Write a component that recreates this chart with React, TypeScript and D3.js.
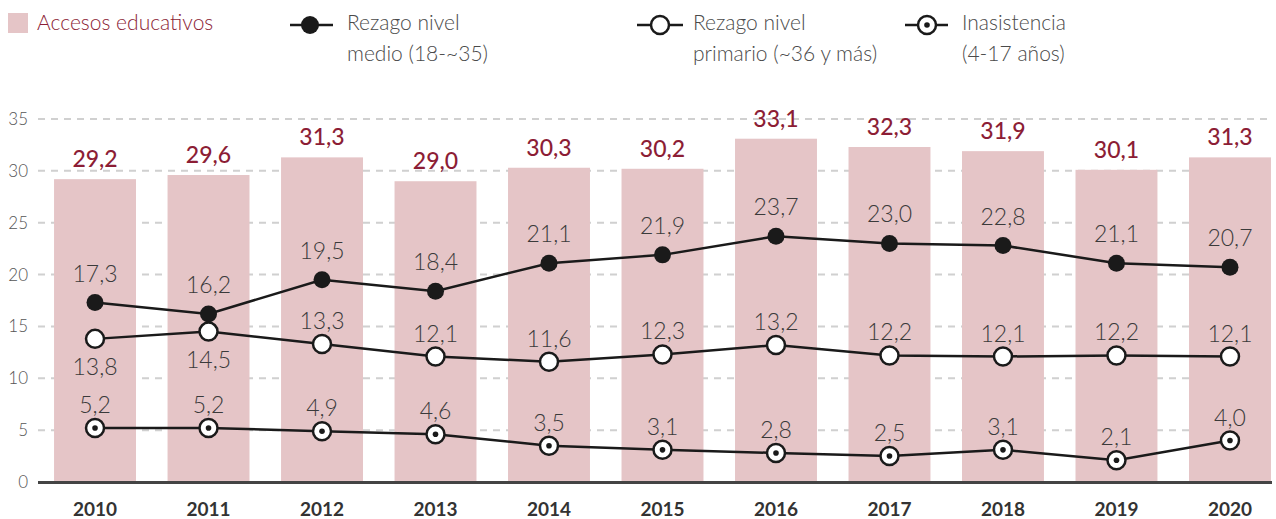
import React from "react";
import * as d3 from "d3";

const years = ["2010", "2011", "2012", "2013", "2014", "2015", "2016", "2017", "2018", "2019", "2020"];
const accesos = [29.2, 29.6, 31.3, 29.0, 30.3, 30.2, 33.1, 32.3, 31.9, 30.1, 31.3];
const rezagoMedio = [17.3, 16.2, 19.5, 18.4, 21.1, 21.9, 23.7, 23.0, 22.8, 21.1, 20.7];
const rezagoPrimario = [13.8, 14.5, 13.3, 12.1, 11.6, 12.3, 13.2, 12.2, 12.1, 12.2, 12.1];
const inasistencia = [5.2, 5.2, 4.9, 4.6, 3.5, 3.1, 2.8, 2.5, 3.1, 2.1, 4.0];
const yTicks = [0, 5, 10, 15, 20, 25, 30, 35];
// label placement for primario: below for first two years
const primarioBelow = [true, true, false, false, false, false, false, false, false, false, false];

const W = 1276;
const H = 519;
const FONT = "Lato, 'Noto Sans', sans-serif";
const RED = "#8c1d35";
const BAR = "#e5c5c7";
const GRAY = "#3a3a3a";
const LEG = "#4a4a4a";

const fmt = (v: number) => v.toFixed(1).replace(".", ",");

export default function App() {
  const x = d3.scaleBand<string>().domain(years).range([22.5, 1302.5]).paddingInner(0.278).paddingOuter(0.278);
  const y = d3.scaleLinear().domain([0, 35]).range([482, 119]);
  const cx = (yr: string) => (x(yr) as number) + x.bandwidth() / 2;
  const line = d3
    .line<number>()
    .x((_, i) => cx(years[i]))
    .y((d) => y(d));

  return (
    <svg width={W} height={H} style={{ position: "absolute", left: 0, top: 0, background: "#fff" }} fontFamily={FONT}>
      {/* legend */}
      <rect x={8} y={13} width={20} height={20} fill={BAR} />
      <text x={37} y={30} fontSize={21} fontWeight={300} fill={RED}>Accesos educativos</text>

      <line x1={290} x2={333} y1={25} y2={25} stroke="#1a1a1a" strokeWidth={2.5} />
      <circle cx={310} cy={25} r={9} fill="#1a1a1a" />
      <text x={347} y={30} fontSize={21} fontWeight={300} fill={LEG}>Rezago nivel</text>
      <text x={347} y={61} fontSize={21} fontWeight={300} fill={LEG}>medio (18-~35)</text>

      <line x1={637} x2={683} y1={25} y2={25} stroke="#1a1a1a" strokeWidth={2.5} />
      <circle cx={660} cy={25} r={9} fill="#fff" stroke="#1a1a1a" strokeWidth={2.5} />
      <text x={693} y={30} fontSize={21} fontWeight={300} fill={LEG}>Rezago nivel</text>
      <text x={693} y={61} fontSize={21} fontWeight={300} fill={LEG}>primario (~36 y más)</text>

      <line x1={905} x2={948} y1={25} y2={25} stroke="#1a1a1a" strokeWidth={2.5} />
      <circle cx={927} cy={25} r={9} fill="#fff" stroke="#1a1a1a" strokeWidth={2.5} />
      <circle cx={927} cy={25} r={2.8} fill="#1a1a1a" />
      <text x={962} y={30} fontSize={21} fontWeight={300} fill={LEG}>Inasistencia</text>
      <text x={962} y={61} fontSize={21} fontWeight={300} fill={LEG}>(4-17 años)</text>

      {/* grid */}
      {yTicks.map((t) => (
        <g key={t}>
          {t > 0 && (
            <line x1={38} x2={1272} y1={y(t)} y2={y(t)} stroke="#d0d0d0" strokeWidth={2} strokeDasharray="7,6" />
          )}
          <text x={28} y={y(t) + 6} fontSize={17} fontWeight={300} fill="#555" textAnchor="end">{t}</text>
        </g>
      ))}

      {/* bars */}
      {accesos.map((v, i) => (
        <g key={years[i]}>
          <rect x={x(years[i])} y={y(v)} width={x.bandwidth()} height={y(0) - y(v)} fill={BAR} />
          <text x={cx(years[i])} y={y(v) - 12} fontSize={23} fontWeight={500} fill={RED} textAnchor="middle">{fmt(v)}</text>
        </g>
      ))}

      {/* axis */}
      <line x1={38} x2={1272} y1={482.5} y2={482.5} stroke="#444" strokeWidth={3} />
      {years.map((yr) => (
        <text key={yr} x={cx(yr)} y={516} fontSize={19} fontWeight={700} fill="#333" textAnchor="middle">{yr}</text>
      ))}

      {/* lines */}
      <path d={line(rezagoMedio) as string} fill="none" stroke="#1a1a1a" strokeWidth={2.5} />
      <path d={line(rezagoPrimario) as string} fill="none" stroke="#1a1a1a" strokeWidth={2.5} />
      <path d={line(inasistencia) as string} fill="none" stroke="#1a1a1a" strokeWidth={2.5} />

      {rezagoMedio.map((v, i) => (
        <g key={"m" + i}>
          <circle cx={cx(years[i])} cy={y(v)} r={8.5} fill="#1a1a1a" />
          <text x={cx(years[i])} y={y(v) - 21} fontSize={23} fontWeight={300} fill={GRAY} textAnchor="middle">{fmt(v)}</text>
        </g>
      ))}
      {rezagoPrimario.map((v, i) => (
        <g key={"p" + i}>
          <circle cx={cx(years[i])} cy={y(v)} r={9} fill="#fff" stroke="#1a1a1a" strokeWidth={2.5} />
          <text x={cx(years[i])} y={primarioBelow[i] ? y(v) + 36 : y(v) - 15} fontSize={23} fontWeight={300} fill={GRAY} textAnchor="middle">{fmt(v)}</text>
        </g>
      ))}
      {inasistencia.map((v, i) => (
        <g key={"n" + i}>
          <circle cx={cx(years[i])} cy={y(v)} r={9} fill="#fff" stroke="#1a1a1a" strokeWidth={2.5} />
          <circle cx={cx(years[i])} cy={y(v)} r={2.8} fill="#1a1a1a" />
          <text x={cx(years[i])} y={y(v) - 15} fontSize={23} fontWeight={300} fill={GRAY} textAnchor="middle">{fmt(v)}</text>
        </g>
      ))}
    </svg>
  );
}
